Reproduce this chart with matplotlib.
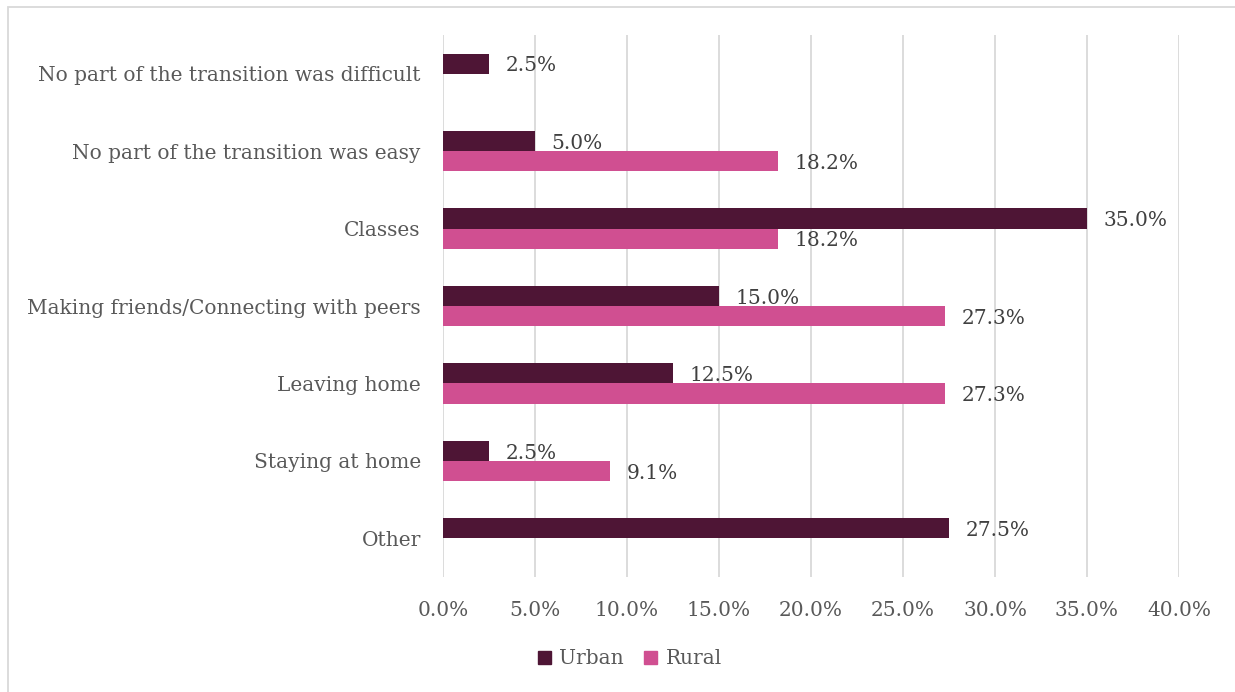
import numpy as np
import matplotlib.pyplot as plt
from matplotlib.patches import Rectangle

categories = ["No part of the transition was difficult",
              "No part of the transition was easy",
              "Classes",
              "Making friends/Connecting with peers",
              "Leaving home",
              "Staying at home",
              "Other"]
urban = [2.5, 5.0, 35.0, 15.0, 12.5, 2.5, 27.5]
rural = [None, 18.2, 18.2, 27.3, 27.3, 9.1, None]
ticks = [0, 5, 10, 15, 20, 25, 30, 35, 40]

c_urban = "#4E1535"
c_rural = "#D04F91"
c_text = "#595959"
c_label = "#404040"
fs = 14.5

plt.rcParams["font.family"] = ["DejaVu Serif"]

fig = plt.figure(figsize=(12.35, 6.92), dpi=100)
ax = fig.add_axes([443 / 1235, 1 - 577 / 692, 736 / 1235, 542 / 692])

y = np.arange(len(categories))
h = 0.26

for i, v in enumerate(urban):
    ax.barh(y[i] - h / 2, v, height=h, color=c_urban, zorder=3)
    ax.text(v + 0.9, y[i] - h / 2 + 0.03, f"{v:.1f}%", va="center", ha="left",
            fontsize=fs, color=c_label, zorder=4)
for i, v in enumerate(rural):
    if v is None:
        continue
    ax.barh(y[i] + h / 2, v, height=h, color=c_rural, zorder=3)
    ax.text(v + 0.9, y[i] + h / 2 + 0.03, f"{v:.1f}%", va="center", ha="left",
            fontsize=fs, color=c_label, zorder=4)

ax.set_xlim(0, 40)
ax.set_ylim(len(categories) - 0.5, -0.5)
ax.set_xticks(ticks)
ax.set_xticklabels([f"{t:.1f}%" for t in ticks], fontsize=fs, color=c_text)
ax.set_yticks(y)
ax.set_yticklabels(categories, fontsize=fs, color=c_text)
ax.tick_params(axis="both", length=0)
ax.tick_params(axis="x", pad=17)
ax.tick_params(axis="y", pad=16)
ax.grid(axis="x", color="#D9D9D9", linewidth=1.3, zorder=0)
for s in ax.spines.values():
    s.set_visible(False)

# legend
hs = [Rectangle((0, 0), 1, 1, color=c_urban), Rectangle((0, 0), 1, 1, color=c_rural)]
fig.legend(hs, ["Urban", "Rural"], loc="center", bbox_to_anchor=(630 / 1235, 1 - 659 / 692),
           ncol=2, frameon=False, fontsize=fs, handlelength=0.65, handleheight=0.65,
           handletextpad=0.4, columnspacing=1.0, labelcolor=c_text)

# outer chart border
fig.add_artist(Rectangle((8 / 1235, -0.1), 1.2, 1 - 7 / 692 + 0.1, transform=fig.transFigure,
                         fill=False, edgecolor="#D9D9D9", linewidth=1.3))

fig.savefig("out.png", dpi=100, facecolor="white")
